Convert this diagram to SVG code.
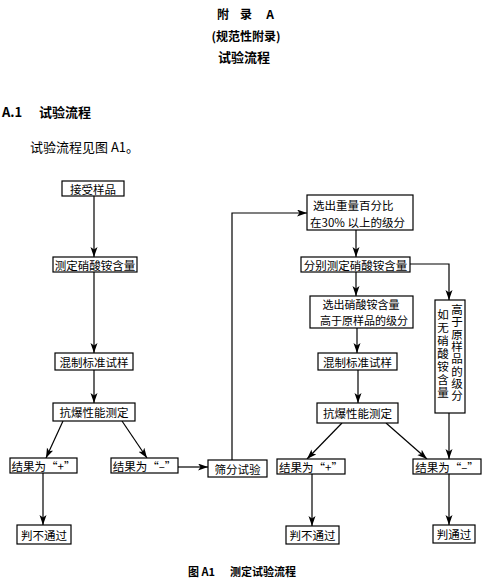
<svg xmlns="http://www.w3.org/2000/svg" width="489" height="583" viewBox="0 0 489 583">
<style>
.bg{fill:#fff}
.box{fill:#fff;stroke:#000;stroke-width:1.2}
.t{font-family:"Noto Sans CJK SC","Liberation Serif",serif;font-size:11.5px;fill:#000;text-anchor:middle;dominant-baseline:central}
.ts{font-family:"Noto Sans CJK SC","Liberation Serif",serif;font-size:11.5px;fill:#000;dominant-baseline:central}
.v{font-family:"Noto Sans CJK SC","Liberation Serif",serif;font-size:11.5px;fill:#000;writing-mode:vertical-rl}
.h{font-family:"Noto Sans CJK SC","Liberation Sans",sans-serif;font-weight:bold;fill:#000;dominant-baseline:central}
.c{fill:none;stroke:#000;stroke-width:1.2}
</style>
<defs>
<marker id="ah" markerUnits="userSpaceOnUse" markerWidth="11" markerHeight="8" refX="10" refY="3.5" orient="auto">
<path d="M0,0 L10,3.5 L0,7 L2.5,3.5 z" fill="#000"/>
</marker>
</defs>
<rect class="bg" x="0" y="0" width="489" height="583"/>

<g id="header">
<text class="h" font-size="12" text-anchor="middle"><tspan x="223" y="13">附</tspan><tspan x="246" y="13">录</tspan><tspan x="270" y="13">A</tspan></text>
<text class="h" font-size="12" x="246" y="35" text-anchor="middle">(规范性附录)</text>
<text class="h" font-size="13" x="244" y="56" text-anchor="middle">试验流程</text>
<text class="h" font-size="13" x="2" y="111">A.1</text>
<text class="h" font-size="13" x="39" y="111">试验流程</text>
<text class="ts" x="30" y="146" style="font-size:13px">试验流程见图 A1。</text>
<text class="h" font-size="11"><tspan x="188" y="571">图 A1</tspan><tspan x="230" y="571">测定试验流程</tspan></text>
</g>

<g id="connectors">
<path class="c" d="M94,196 V257" marker-end="url(#ah)"/>
<path class="c" d="M94,272 V353" marker-end="url(#ah)"/>
<path class="c" d="M94,370 V403" marker-end="url(#ah)"/>
<path class="c" d="M63,421 L46,458" marker-end="url(#ah)"/>
<path class="c" d="M122,421 L147,458" marker-end="url(#ah)"/>
<path class="c" d="M43,473 V525" marker-end="url(#ah)"/>
<path class="c" d="M178,467 H208" marker-end="url(#ah)"/>
<path class="c" d="M232,460 V213 H307" marker-end="url(#ah)"/>
<path class="c" d="M356,230 V257" marker-end="url(#ah)"/>
<path class="c" d="M410,264 H449 V300" marker-end="url(#ah)"/>
<path class="c" d="M356,272 V296" marker-end="url(#ah)"/>
<path class="c" d="M357,328 V353" marker-end="url(#ah)"/>
<path class="c" d="M358,370 V403" marker-end="url(#ah)"/>
<path class="c" d="M342,423 L307,459" marker-end="url(#ah)"/>
<path class="c" d="M386,423 L427,459" marker-end="url(#ah)"/>
<path class="c" d="M449,413 V459" marker-end="url(#ah)"/>
<path class="c" d="M312,474 V526" marker-end="url(#ah)"/>
<path class="c" d="M449,474 V525" marker-end="url(#ah)"/>
</g>

<g id="n1"><rect class="box" x="62" y="181" width="62" height="15"/><text class="t" x="93" y="188.5">接受样品</text></g>
<g id="n2"><rect class="box" x="53" y="257" width="84" height="15"/><text class="t" x="95" y="264.5">测定硝酸铵含量</text></g>
<g id="n3"><rect class="box" x="55" y="353" width="78" height="17"/><text class="t" x="94" y="361.5">混制标准试样</text></g>
<g id="n4"><rect class="box" x="53" y="403" width="82" height="18"/><text class="t" x="94" y="412">抗爆性能测定</text></g>
<g id="n5"><rect class="box" x="10" y="458" width="67" height="15"/><text class="t" x="43.5" y="465.5">结果为“+”</text></g>
<g id="n6"><rect class="box" x="111" y="458" width="67" height="15"/><text class="t" x="144.5" y="465.5">结果为“–”</text></g>
<g id="n7"><rect class="box" x="208" y="460" width="59" height="17"/><text class="t" x="237.5" y="468.5">筛分试验</text></g>
<g id="n8"><rect class="box" x="17" y="525" width="54" height="19"/><text class="t" x="44" y="534.5">判不通过</text></g>
<g id="n9"><rect class="box" x="307" y="195" width="106" height="35"/><text class="ts" x="313" y="205">选出重量百分比</text><text class="ts" x="310" y="222">在30% 以上的级分</text></g>
<g id="n10"><rect class="box" x="301" y="257" width="109" height="15"/><text class="t" x="355.5" y="264.5">分别测定硝酸铵含量</text></g>
<g id="n11"><rect class="box" x="310" y="296" width="103" height="32"/><text class="t" x="361" y="304" style="font-size:11px">选出硝酸铵含量</text><text class="t" x="364" y="320" style="font-size:11px">高于原样品的级分</text></g>
<g id="n12"><rect class="box" x="318" y="353" width="79" height="17"/><text class="t" x="357.5" y="361.5">混制标准试样</text></g>
<g id="n13"><rect class="box" x="317" y="403" width="81" height="20"/><text class="t" x="357.5" y="413">抗爆性能测定</text></g>
<g id="n14"><rect class="box" x="435" y="300" width="30" height="113"/><text class="v" x="457" y="304" letter-spacing="0.8">高于原样品的级分</text><text class="v" x="443" y="309" letter-spacing="1.4">如无硝酸铵含量</text></g>
<g id="n15"><rect class="box" x="277" y="459" width="68" height="15"/><text class="t" x="311" y="466.5">结果为“+”</text></g>
<g id="n16"><rect class="box" x="413" y="459" width="68" height="15"/><text class="t" x="447" y="466.5">结果为“–”</text></g>
<g id="n17"><rect class="box" x="286" y="526" width="53" height="18"/><text class="t" x="312.5" y="535">判不通过</text></g>
<g id="n18"><rect class="box" x="433" y="525" width="42" height="18"/><text class="t" x="454" y="534">判通过</text></g>
</svg>
